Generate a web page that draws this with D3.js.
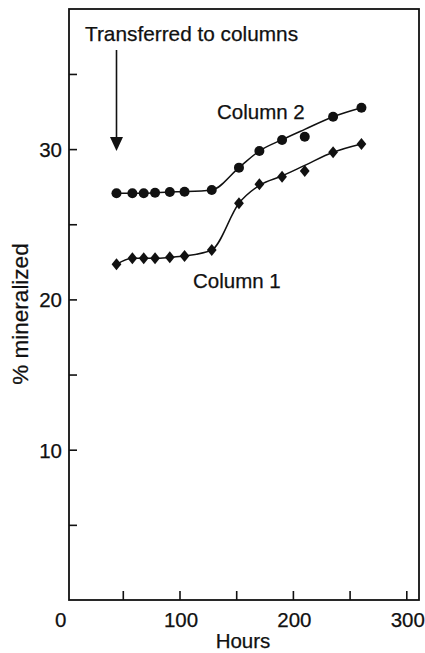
<!DOCTYPE html>
<html>
<head>
<meta charset="utf-8">
<script src="https://cdn.jsdelivr.net/npm/d3@7"></script>
<style>
  body { margin: 0; background: #fff; }
  svg { display: block; font-family: "Liberation Sans", Arial, sans-serif; }
  text { stroke: #111; stroke-width: 0.25; }
</style>
</head>
<body>
<div id="chart"></div>
<script>
// sampling times (hours)
var hours = [44, 58, 68, 78, 91, 104, 128, 152, 170, 190, 210, 235, 260];

// measured % mineralized
var column1 = [22.37, 22.77, 22.77, 22.77, 22.83, 22.92, 23.32, 26.43, 27.69, 28.20, 28.58, 29.82, 30.37];
var column2 = [27.09, 27.09, 27.09, 27.13, 27.18, 27.20, 27.31, 28.80, 29.91, 30.64, 30.86, 32.19, 32.79];

// fitted curves drawn through the points
var fit1 = [22.37, 22.77, 22.77, 22.77, 22.83, 22.92, 23.32, 26.43, 27.62, 28.25, 28.95, 29.82, 30.37];
var fit2 = [27.09, 27.09, 27.09, 27.13, 27.18, 27.20, 27.31, 28.80, 29.91, 30.66, 31.35, 32.19, 32.79];

var xTicks = [50, 100, 150, 200, 250, 300];
var xLabels = [0, 100, 200, 300];
var yTicks = [5, 10, 15, 20, 25, 30, 35];
var yLabels = [10, 20, 30];

var width = 425, height = 653;
var frame = {left: 69, right: 419, top: 9, bottom: 600};

var svg = d3.select("#chart").append("svg")
    .attr("width", width)
    .attr("height", height);

var x = d3.scaleLinear().domain([0, 300]).range([66.6, 406.8]);
var y = d3.scaleLinear().domain([0, 10]).range([600.5, 450.2]);

// frame
svg.append("rect")
    .attr("x", frame.left)
    .attr("y", frame.top)
    .attr("width", frame.right - frame.left)
    .attr("height", frame.bottom - frame.top)
    .attr("fill", "none")
    .attr("stroke", "#111")
    .attr("stroke-width", 1.8);

// inward ticks
svg.selectAll(".xtick").data(xTicks).enter().append("line")
    .attr("x1", d => x(d)).attr("x2", d => x(d))
    .attr("y1", frame.bottom).attr("y2", frame.bottom - 9)
    .attr("stroke", "#111").attr("stroke-width", 1.6);

svg.selectAll(".ytick").data(yTicks).enter().append("line")
    .attr("x1", frame.left).attr("x2", frame.left + 8)
    .attr("y1", d => y(d)).attr("y2", d => y(d))
    .attr("stroke", "#111").attr("stroke-width", 1.6);

// tick labels
svg.selectAll(".xlab").data(xLabels).enter().append("text")
    .attr("x", d => d === 0 ? x(d) - 6 : x(d) + 1)
    .attr("y", 627)
    .attr("text-anchor", "middle")
    .attr("font-size", 20.5)
    .attr("fill", "#111")
    .text(d => d);

svg.selectAll(".ylab").data(yLabels).enter().append("text")
    .attr("x", 62)
    .attr("y", d => y(d))
    .attr("dy", "0.36em")
    .attr("text-anchor", "end")
    .attr("font-size", 20.5)
    .attr("fill", "#111")
    .text(d => d);

// axis titles
svg.append("text")
    .attr("x", 243).attr("y", 648)
    .attr("text-anchor", "middle")
    .attr("font-size", 20.5)
    .attr("fill", "#111")
    .text("Hours");

svg.append("text")
    .attr("transform", "translate(28,314) rotate(-90)")
    .attr("text-anchor", "middle")
    .attr("font-size", 22.5)
    .attr("fill", "#111")
    .text("% mineralized");

// fitted lines
var line = d3.line()
    .x((d, i) => x(hours[i]))
    .y(d => y(d))
    .curve(d3.curveMonotoneX);

[fit1, fit2].forEach(function(f) {
    svg.append("path")
        .attr("d", line(f))
        .attr("fill", "none")
        .attr("stroke", "#111")
        .attr("stroke-width", 1.5);
});

// markers
svg.selectAll(".c2").data(column2).enter().append("circle")
    .attr("cx", (d, i) => x(hours[i]))
    .attr("cy", d => y(d))
    .attr("r", 5)
    .attr("fill", "#111");

svg.selectAll(".c1").data(column1).enter().append("path")
    .attr("transform", (d, i) => "translate(" + x(hours[i]) + "," + y(d) + ")")
    .attr("d", "M0,-6L4.9,0L0,6L-4.9,0Z")
    .attr("fill", "#111");

// series labels
svg.append("text")
    .attr("x", 217).attr("y", 119)
    .attr("font-size", 20.5)
    .attr("fill", "#111")
    .text("Column 2");

svg.append("text")
    .attr("x", 193).attr("y", 288)
    .attr("font-size", 20.5)
    .attr("fill", "#111")
    .text("Column 1");

// transfer annotation
var ax = x(hours[0]);
svg.append("text")
    .attr("x", 85).attr("y", 41)
    .attr("font-size", 20.8)
    .attr("fill", "#111")
    .text("Transferred to columns");

svg.append("line")
    .attr("x1", ax).attr("x2", ax)
    .attr("y1", 50).attr("y2", 139)
    .attr("stroke", "#111").attr("stroke-width", 1.6);

svg.append("path")
    .attr("d", "M" + (ax - 6.5) + ",137L" + (ax + 6.5) + ",137L" + ax + ",151Z")
    .attr("fill", "#111");
</script>
</body>
</html>
